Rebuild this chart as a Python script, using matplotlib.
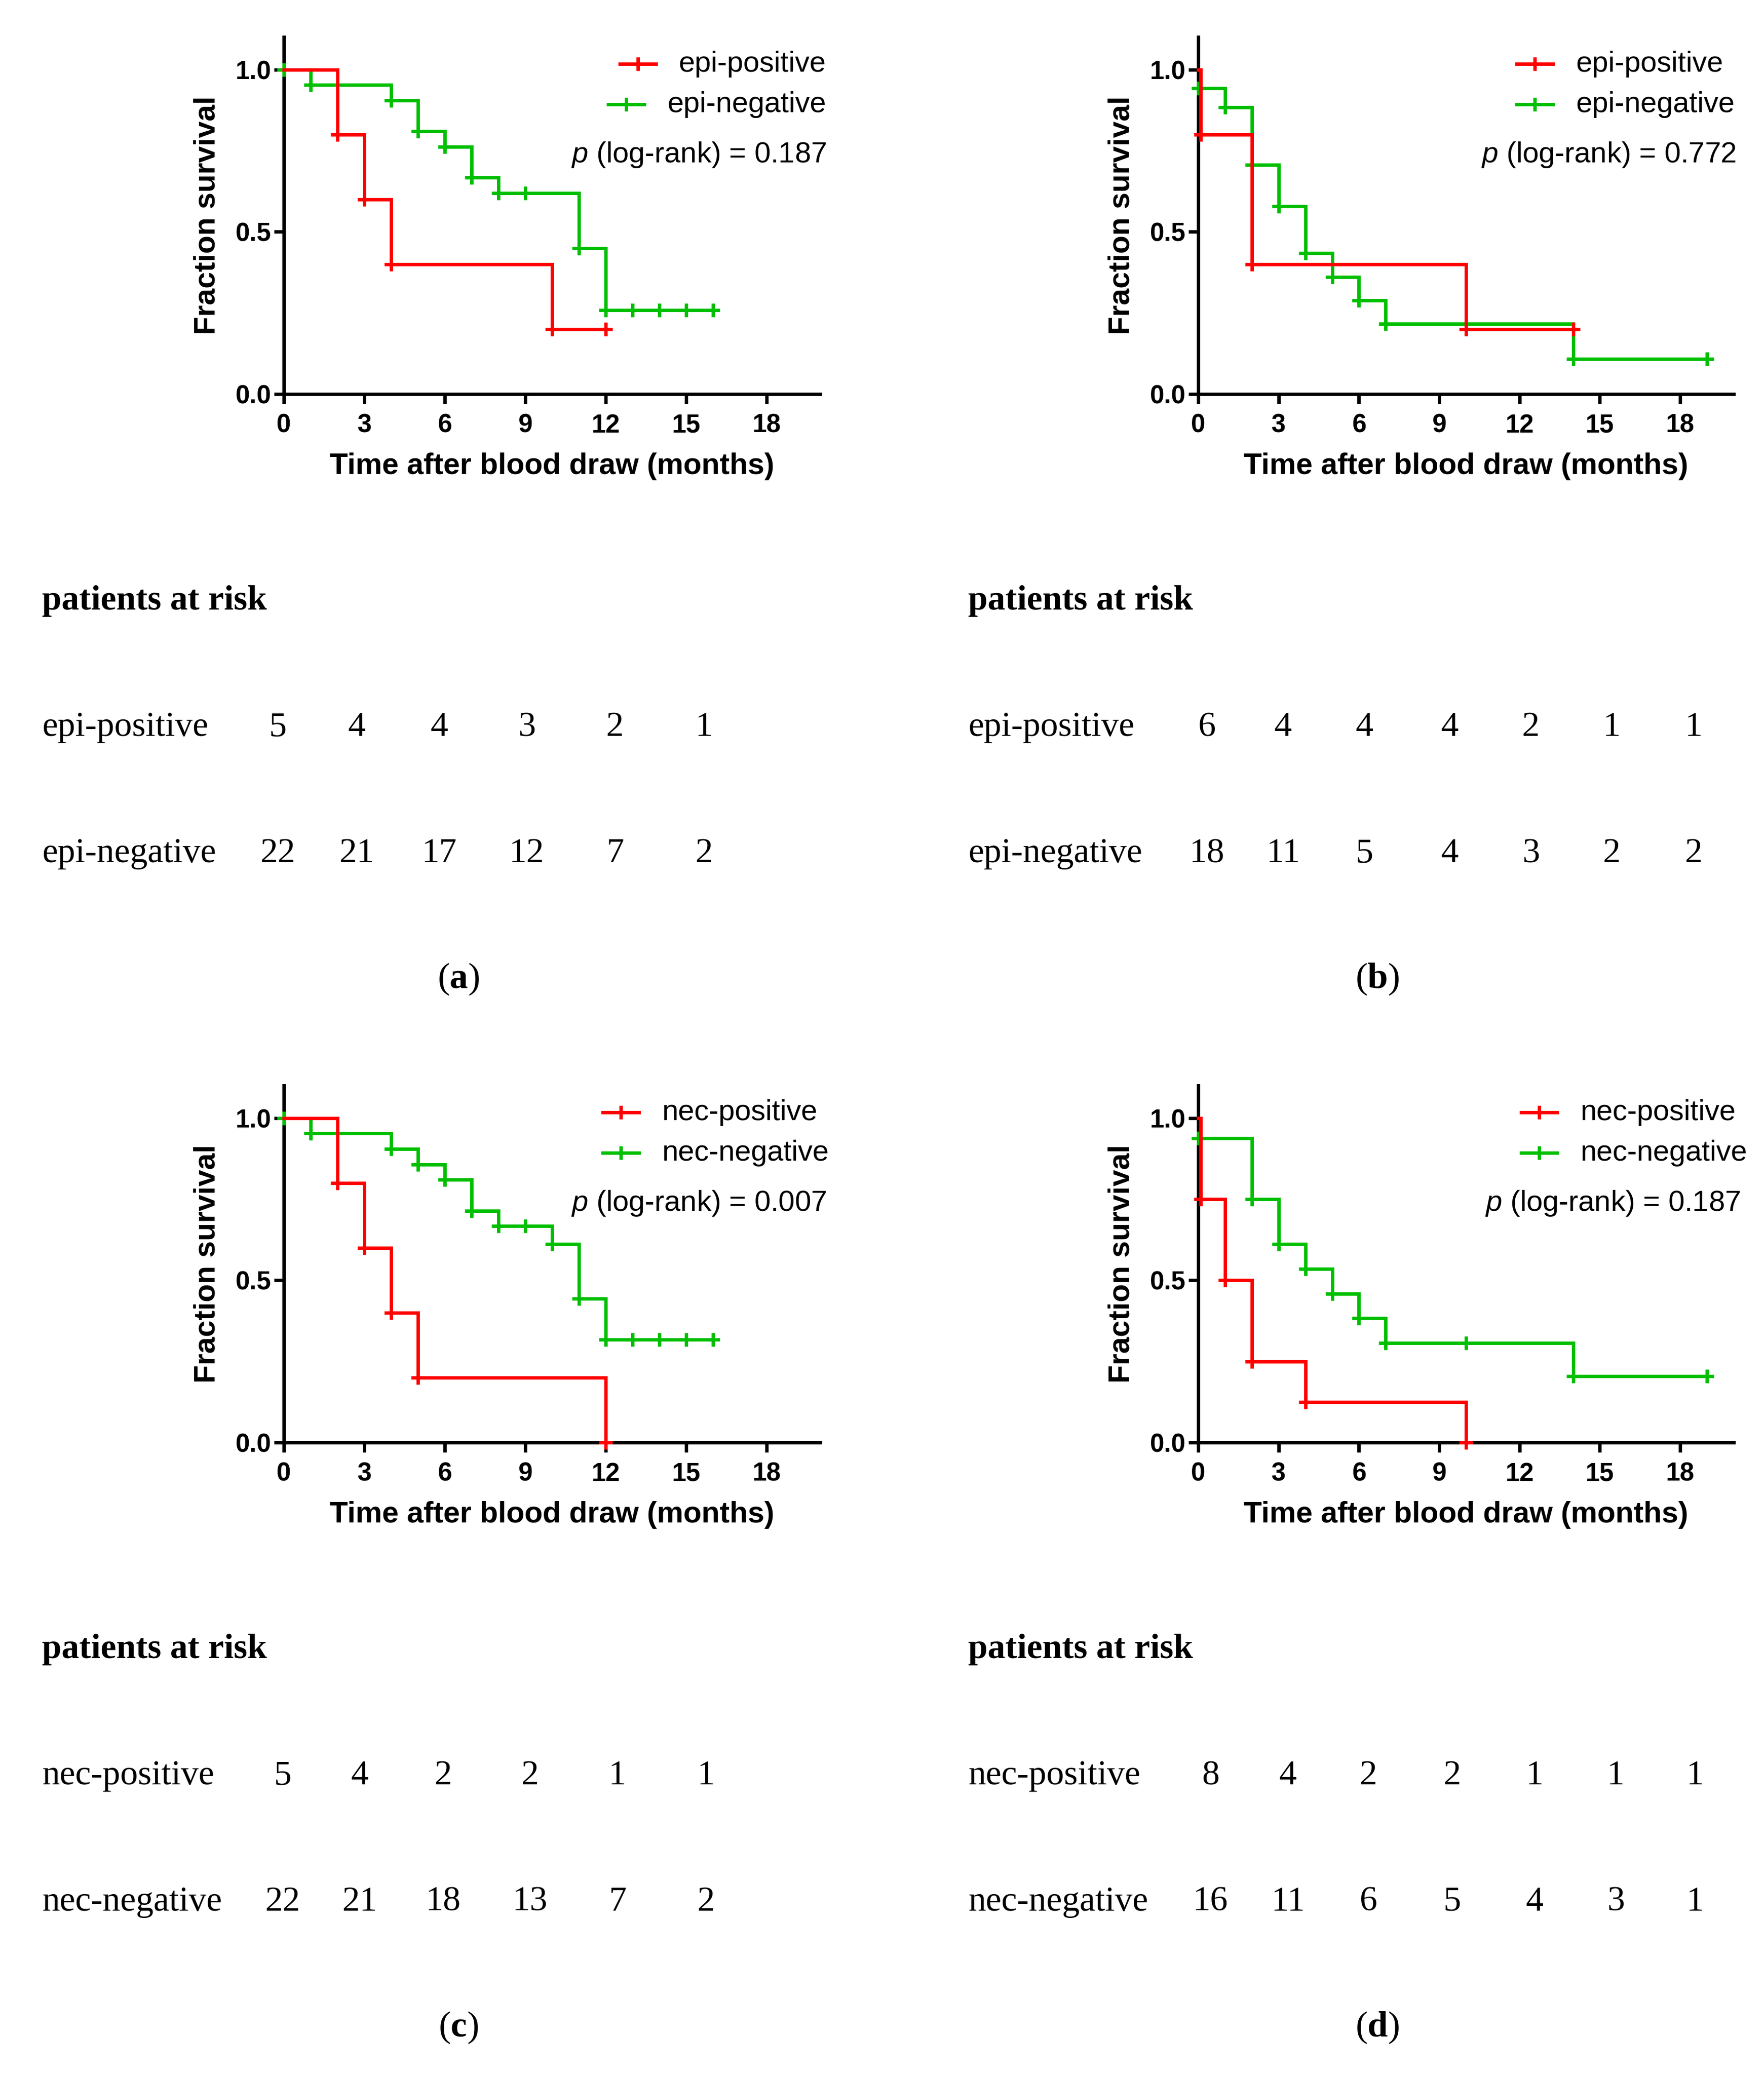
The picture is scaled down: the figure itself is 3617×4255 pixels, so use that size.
import numpy as np
import matplotlib
matplotlib.use("Agg")
import matplotlib.pyplot as plt
from matplotlib.lines import Line2D

# ---------------- data ----------------
x_ticks = [0, 3, 6, 9, 12, 15, 18]
y_ticks = [0.0, 0.5, 1.0]
y_tick_labels = ["0.0", "0.5", "1.0"]

# panel a
a_names = ["epi-positive", "epi-negative"]
a_pos_t = [0, 2, 3, 4, 10, 12]
a_pos_s = [1.0, 0.8, 0.6, 0.4, 0.2, 0.2]
a_pos_ticks = [2, 3, 4, 10, 12]
a_neg_t = [0, 1, 4, 5, 6, 7, 8, 11, 12, 16]
a_neg_s = [1.0, 0.952, 0.905, 0.810, 0.762, 0.667, 0.619, 0.450, 0.258, 0.258]
a_neg_ticks = [0, 1, 4, 5, 6, 7, 8, 9, 11, 12, 13, 14, 15, 16]
a_p = "0.187"
a_risk_pos = [5, 4, 4, 3, 2, 1]
a_risk_neg = [22, 21, 17, 12, 7, 2]

# panel b
b_names = ["epi-positive", "epi-negative"]
b_pos_t = [0, 0.1, 2, 10, 14]
b_pos_s = [1.0, 0.8, 0.4, 0.2, 0.2]
b_pos_ticks = [0.1, 2, 10, 14]
b_neg_t = [0, 1, 2, 3, 4, 5, 6, 7, 14, 19]
b_neg_s = [0.942, 0.884, 0.706, 0.578, 0.434, 0.361, 0.289, 0.217, 0.108, 0.108]
b_neg_ticks = [0, 1, 2, 3, 4, 5, 6, 7, 14, 19]
b_p = "0.772"
b_risk_pos = [6, 4, 4, 4, 2, 1, 1]
b_risk_neg = [18, 11, 5, 4, 3, 2, 2]

# panel c
c_names = ["nec-positive", "nec-negative"]
c_pos_t = [0, 2, 3, 4, 5, 12]
c_pos_s = [1.0, 0.8, 0.6, 0.4, 0.2, 0.0]
c_pos_ticks = [2, 3, 4, 5, 12]
c_neg_t = [0, 1, 4, 5, 6, 7, 8, 10, 11, 12, 16]
c_neg_s = [1.0, 0.952, 0.905, 0.857, 0.810, 0.714, 0.667, 0.611, 0.444, 0.317, 0.317]
c_neg_ticks = [0, 1, 4, 5, 6, 7, 8, 9, 10, 11, 12, 13, 14, 15, 16]
c_p = "0.007"
c_risk_pos = [5, 4, 2, 2, 1, 1]
c_risk_neg = [22, 21, 18, 13, 7, 2]

# panel d
d_names = ["nec-positive", "nec-negative"]
d_pos_t = [0, 0.1, 1, 2, 4, 10]
d_pos_s = [1.0, 0.75, 0.5, 0.25, 0.125, 0.0]
d_pos_ticks = [0.1, 1, 2, 4, 10]
d_neg_t = [0, 2, 3, 4, 5, 6, 7, 14, 19]
d_neg_s = [0.9375, 0.75, 0.611, 0.535, 0.459, 0.383, 0.306, 0.204, 0.204]
d_neg_ticks = [0, 2, 3, 4, 5, 6, 7, 10, 14, 19]
d_p = "0.187"
d_risk_pos = [8, 4, 2, 2, 1, 1, 1]
d_risk_neg = [16, 11, 6, 5, 4, 3, 1]

panel_letters = ["a", "b", "c", "d"]

# ---------------- style / layout ----------------
W, H = 3617, 4255
DPI = 100
RED = "#FF0000"
GREEN = "#00BF00"
SANS = ["Liberation Sans", "DejaVu Sans"]
SERIF = ["Liberation Serif", "DejaVu Serif"]

plt.rcParams["font.family"] = SANS
plt.rcParams["mathtext.fontset"] = "custom"
plt.rcParams["mathtext.rm"] = "Liberation Serif"
plt.rcParams["mathtext.bf"] = "Liberation Serif:bold"
plt.rcParams["mathtext.it"] = "Liberation Sans:italic"
plt.rcParams["mathtext.sf"] = "Liberation Sans:italic"

fig = plt.figure(figsize=(W / DPI, H / DPI), dpi=DPI)
fig.patch.set_facecolor("white")


def fx(px):
    return px / W


def fy(py):
    return 1 - py / H


def step_val(t, s, x):
    t = np.asarray(t, float)
    s = np.asarray(s, float)
    idx = np.searchsorted(t, np.asarray(x, float), side="right") - 1
    return s[idx]


panels = [
    dict(names=a_names, pos=(a_pos_t, a_pos_s, a_pos_ticks), neg=(a_neg_t, a_neg_s, a_neg_ticks),
         p=a_p, risk=(a_risk_pos, a_risk_neg)),
    dict(names=b_names, pos=(b_pos_t, b_pos_s, b_pos_ticks), neg=(b_neg_t, b_neg_s, b_neg_ticks),
         p=b_p, risk=(b_risk_pos, b_risk_neg)),
    dict(names=c_names, pos=(c_pos_t, c_pos_s, c_pos_ticks), neg=(c_neg_t, c_neg_s, c_neg_ticks),
         p=c_p, risk=(c_risk_pos, c_risk_neg)),
    dict(names=d_names, pos=(d_pos_t, d_pos_s, d_pos_ticks), neg=(d_neg_t, d_neg_s, d_neg_ticks),
         p=d_p, risk=(d_risk_pos, d_risk_neg)),
]

# layout (pixels, from top-left)
axes_left = [582, 2457, 582, 2457]
axes_right = [1682, 3555, 1682, 3555]
yoff = [0, 0, 2150, 2150]
AX_TOP, AX_BOT = 76, 808
leg_text_x = [1694, 3231, 1357, 3240]
leg_text_ha = ["right", "left", "left", "left"]
p_right = [1694, 3559, 1694, 3568]
risk_label_x = [86, 1985, 86, 1985]
risk_cols = [
    [570, 732, 901, 1080, 1261, 1444],
    [2475, 2631, 2798, 2973, 3139, 3305, 3473],
    [580, 738, 909, 1087, 1266, 1448],
    [2482, 2641, 2806, 2978, 3147, 3313, 3476],
]
letter_x = [940, 2824, 940, 2824]
SERIF_SIZE = 52

LW = 5.0
MS = 20
MEW = 5.0
legend_items = []

for k, P in enumerate(panels):
    L, R = axes_left[k], axes_right[k]
    top, bot = AX_TOP + yoff[k], AX_BOT + yoff[k]
    ax = fig.add_axes([fx(L), fy(bot), fx(R - L), (bot - top) / H])
    ax.set_xlim(0, 20)
    ax.set_ylim(0, 1.1)
    ax.set_facecolor("none")
    for sp in ["top", "right"]:
        ax.spines[sp].set_visible(False)
    for sp in ["left", "bottom"]:
        ax.spines[sp].set_linewidth(5)
        ax.spines[sp].set_color("black")
        ax.spines[sp].set_capstyle("projecting")
    ax.set_xticks(x_ticks)
    ax.set_xticklabels([str(v) for v in x_ticks])
    ax.set_yticks(y_ticks)
    ax.set_yticklabels(y_tick_labels)
    ax.tick_params(axis="both", direction="out", length=14.5, width=5, color="black",
                   labelsize=38)
    ax.tick_params(axis="x", pad=14)
    ax.tick_params(axis="y", pad=4)
    for lab in ax.get_xticklabels() + ax.get_yticklabels():
        lab.set_fontweight("bold")

    # curves: negative (green) first, positive (red) on top
    for (t, s, ticks), col, z in [(P["neg"], GREEN, 3), (P["pos"], RED, 4)]:
        ax.step(t, s, where="post", color=col, lw=LW, clip_on=False, zorder=z,
                solid_joinstyle="miter")
        ax.plot(ticks, step_val(t, s, ticks), ls="none", marker="+", ms=MS, mew=MEW,
                color=col, clip_on=False, zorder=z)

    # axis labels
    fig.text(fx(L - 157), fy((top + bot) / 2), "Fraction survival", rotation=90,
             ha="center", va="center", fontsize=44, fontweight="bold")
    fig.text(fx((L + R) / 2), fy(972 + yoff[k]), "Time after blood draw (months)",
             ha="center", va="baseline", fontsize=44, fontweight="bold")

    # legend
    for j, (name, col) in enumerate(zip(P["names"], [RED, GREEN])):
        row_y = [131, 214][j] + yoff[k]
        txt = fig.text(fx(leg_text_x[k]), fy(row_y + 16), name, ha=leg_text_ha[k],
                       va="baseline", fontsize=43)
        legend_items.append((txt, row_y, col))

    fig.text(fx(p_right[k]), fy(333 + yoff[k]), r"$\mathsf{p}$ (log-rank) = " + P["p"],
             ha="right", va="baseline", fontsize=43)

    # risk table
    fig.text(fx(risk_label_x[k]), fy(1250 + yoff[k]), "patients at risk", family=SERIF,
             fontweight="bold", fontsize=SERIF_SIZE, ha="left", va="baseline")
    for j, (name, counts) in enumerate(zip(P["names"], P["risk"])):
        base = [1509, 1768][j] + yoff[k]
        fig.text(fx(risk_label_x[k]), fy(base), name, family=SERIF, fontsize=SERIF_SIZE,
                 ha="left", va="baseline")
        for xc, n in zip(risk_cols[k], counts):
            fig.text(fx(xc), fy(base), str(n), family=SERIF, fontsize=SERIF_SIZE,
                     ha="center", va="baseline")

    fig.text(fx(letter_x[k]), fy(2008 + yoff[k]), "(" + r"$\mathbf{" + panel_letters[k] + "}$" + ")",
             family=SERIF, fontsize=SERIF_SIZE + 2, ha="center", va="center")

# legend symbols placed relative to the text extents
fig.canvas.draw()
renderer = fig.canvas.get_renderer()
GAP, SEG = 47, 74
for txt, row_y, col in legend_items:
    bb = txt.get_window_extent(renderer)
    x_end = bb.x0 - GAP
    x_start = x_end - SEG
    fig.add_artist(Line2D([fx(x_start), fx(x_end)], [fy(row_y), fy(row_y)],
                          transform=fig.transFigure, color=col, lw=LW))
    fig.add_artist(Line2D([fx((x_start + x_end) / 2)], [fy(row_y)], transform=fig.transFigure,
                          color=col, marker="+", ms=MS, mew=MEW, ls="none"))

fig.savefig("out.png", dpi=DPI, facecolor="white")
